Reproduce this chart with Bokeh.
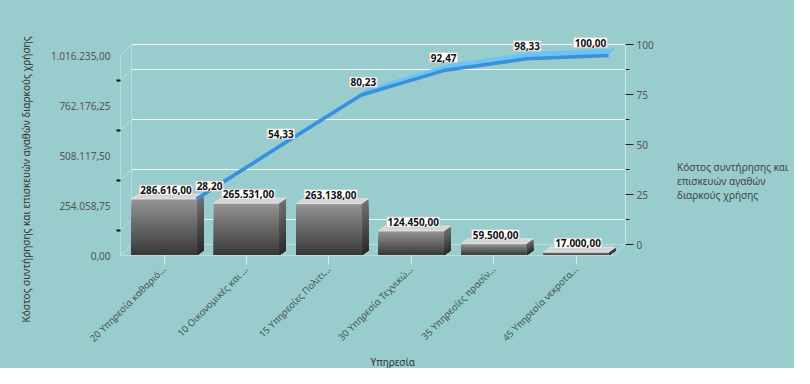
import numpy as np
from bokeh.plotting import figure
from bokeh.layouts import row
from bokeh.models import (Range1d, LinearAxis, FixedTicker, ColumnDataSource,
                          Title, Legend, LegendItem)
from bokeh.core.properties import value
from bokeh.embed import file_html
from bokeh.resources import INLINE

# ---------------- data ----------------
categories = ["20 Υπηρεσία καθαριό...", "10 Οικονομικές και ...",
              "15 Υπηρεσίες Πολιτι...", "30 Υπηρεσία Τεχνικώ...",
              "35 Υπηρεσίες πρασίν...", "45 Υπηρεσία νεκροτα..."]
costs = [286616.00, 265531.00, 263138.00, 124450.00, 59500.00, 17000.00]
cum_pct = [28.20, 54.33, 80.23, 92.47, 98.33, 100.00]
cost_ticks = [0.00, 254058.75, 508117.50, 762176.25, 1016235.00]
pct_ticks = [0, 25, 50, 75, 100]
pct_minor = [12.5, 37.5, 62.5, 87.5]
series_lines = ["Κόστος συντήρησης και", "επισκευών αγαθών", "διαρκούς χρήσης"]
y_title = "Κόστος συντήρησης και επισκευών αγαθών διαρκούς χρήσης"
x_title = "Υπηρεσία"

# ---------------- style / geometry ----------------
BG = "#99cccc"
FONT = "Noto Sans"
W, H = 660, 368
LW = 134                                    # legend strip width
FL, FR, FT, FB = 120, 625, 30, 255          # frame in figure px
CAT_PX = 82.4
FIRST_CENTER = 163.5                        # px of first category centre
HALF = 32.5 / CAT_PX                        # half bar width (category units)
WALL_DX = 11 / CAT_PX                       # 3D wall depth
Y_MAX = cost_ticks[-1]
FRONT_PX = 200.0                            # px from 0 to Y_MAX in front plane
PCT_PX = 2.0                                # px per percent unit (axis plane)

def gr(v):
    s = f"{v:,.2f}"
    return s.replace(",", "#").replace(".", ",").replace("#", ".")

x_start = (FL - FIRST_CENTER) / CAT_PX
x_end = (FR - FIRST_CENTER) / CAT_PX
frame_h = FB - FT
y_end = Y_MAX * frame_h / FRONT_PX
pct_start = -11 / PCT_PX
pct_end = 100 + (frame_h - 11 - 100 * PCT_PX) / PCT_PX
pct_front_end = 100 * frame_h / FRONT_PX

p = figure(width=W, height=H, output_backend="svg", toolbar_location=None,
           x_range=Range1d(x_start, x_end), y_range=Range1d(0, y_end),
           min_border_left=FL, min_border_right=W - FR,
           min_border_top=FT, min_border_bottom=H - FB)
p.background_fill_color = BG
p.border_fill_color = BG
p.outline_line_color = None
p.xgrid.visible = False
p.ygrid.visible = False
p.extra_y_ranges = {"pct": Range1d(pct_start, pct_end),
                    "pct_front": Range1d(0, pct_front_end)}

# ---------------- walls & grid (back plane) ----------------
wall = "#b9dede"
gridc = "#f2fafa"
bx0 = x_start + WALL_DX
dpct = 11 / PCT_PX
grid_vals = pct_minor + [100]
p.segment(x0=[bx0] * len(grid_vals), y0=grid_vals, x1=[x_end] * len(grid_vals),
          y1=grid_vals, y_range_name="pct", line_color=gridc, line_width=1)
diag_vals = grid_vals + [0]
p.segment(x0=[bx0] * len(diag_vals), y0=diag_vals, x1=[x_start] * len(diag_vals),
          y1=[g - dpct for g in diag_vals], y_range_name="pct",
          line_color=wall, line_width=1)
p.segment(x0=[bx0, bx0, x_end - WALL_DX], y0=[0, 0, -dpct],
          x1=[bx0, x_end, x_end], y1=[100, 0, 0], y_range_name="pct",
          line_color=wall, line_width=1)

# ---------------- 3D bars (gradient by overlapping layers) ----------------
def lerp(c1, c2, t):
    a = [int(c1[i:i + 2], 16) for i in (1, 3, 5)]
    b = [int(c2[i:i + 2], 16) for i in (1, 3, 5)]
    return "#%02x%02x%02x" % tuple(round(a[k] + (b[k] - a[k]) * t) for k in range(3))

N = 24
BDX = 7 / CAT_PX
BDY = 5 * Y_MAX / FRONT_PX
fl, fr, ft, fc = [], [], [], []
sx, sy, sc = [], [], []
for k in range(N, 0, -1):           # tallest (lightest) layer first
    t = (k - 0.5) / N
    for i, v in enumerate(costs):
        l, r = i - HALF, i + HALF
        top = v * k / N
        fl.append(l); fr.append(r); ft.append(top)
        fc.append(lerp("#363636", "#959595", t))
        sx.append([r, r + BDX, r + BDX, r])
        sy.append([0, BDY, top + BDY, top])
        sc.append(lerp("#2a2a2a", "#727272", t))
p.patches(xs=sx, ys=sy, fill_color=sc, line_color=None)
p.quad(left=fl, right=fr, bottom=0, top=ft, fill_color=fc, line_color=None)
tx = [[i - HALF, i - HALF + BDX, i + HALF + BDX, i + HALF] for i in range(len(costs))]
ty = [[v, v + BDY, v + BDY, v] for v in costs]
p.patches(xs=tx, ys=ty, fill_color="#d6d6d6", line_color="#eeeeee", line_width=0.7)

# ---------------- cumulative % ribbon ----------------
lx = [i + HALF for i in range(len(cum_pct))]
RDX = 7 / CAT_PX
RDY = 3.5
rib_x = lx + [x + RDX for x in lx[::-1]]
rib_y = cum_pct + [y + RDY for y in cum_pct[::-1]]
p.patch(rib_x, rib_y, y_range_name="pct_front", fill_color="#6cc4f5", line_color=None)
p.line(lx, cum_pct, y_range_name="pct_front", line_color="#3a90d9", line_width=3.5)

# ---------------- value labels ----------------
bar_src = ColumnDataSource(dict(x=[i + 2 / CAT_PX for i in range(len(costs))], y=costs,
                                t=[gr(v) for v in costs]))
p.text(x="x", y="y", text="t", source=bar_src, y_offset=-4,
       text_align="center", text_baseline="bottom", text_font=value(FONT),
       text_font_style="bold", text_font_size="10px", text_color="#111111",
       background_fill_color="white", border_line_color="#d0d0d0", padding=1)
pct_src = ColumnDataSource(dict(x=lx, y=cum_pct, t=[gr(v) for v in cum_pct],
                                xo=[13, 2, 2, 0, 1, -18]))
p.text(x="x", y="y", text="t", source=pct_src, x_offset="xo", y_offset=-13,
       y_range_name="pct_front", text_align="center", text_baseline="middle",
       text_font=value(FONT), text_font_style="bold", text_font_size="10px",
       text_color="#111111", background_fill_color="white",
       border_line_color="#d0d0d0", padding=1)

# ---------------- axes ----------------
ya = p.yaxis[0]
ya.ticker = FixedTicker(ticks=cost_ticks, minor_ticks=[Y_MAX * f for f in (0.125, 0.375, 0.625, 0.875)])
ya.major_label_overrides = {t: gr(t) for t in cost_ticks}
ya.major_tick_out = 0
ya.major_tick_in = 0
ya.minor_tick_out = 4
ya.minor_tick_in = 0
ya.minor_tick_line_color = "#111111"
ya.minor_tick_line_width = 2
ya.axis_line_color = wall
ya.bounds = (0, Y_MAX)
ya.major_label_standoff = 6
ya.major_label_text_font = FONT
ya.major_label_text_font_size = "10px"
ya.major_label_text_color = "#555555"

xa = p.xaxis[0]
xa.ticker = FixedTicker(ticks=list(range(len(categories))))
xa.major_label_overrides = {i: c for i, c in enumerate(categories)}
xa.major_label_orientation = np.pi / 4
xa.major_tick_out = 9
xa.major_tick_in = 0
xa.major_tick_line_color = "#d8ecec"
xa.minor_tick_line_color = None
xa.axis_line_color = wall
xa.bounds = (x_start, x_end - WALL_DX)
xa.major_label_standoff = 3
xa.major_label_text_font = FONT
xa.major_label_text_font_size = "9.5px"
xa.major_label_text_color = "#445555"

ra = LinearAxis(y_range_name="pct",
                ticker=FixedTicker(ticks=pct_ticks, minor_ticks=pct_minor))
ra.bounds = (0, 100)
ra.axis_line_color = "#cfe6e6"
ra.major_tick_out = 8
ra.major_tick_in = 0
ra.minor_tick_out = 4
ra.minor_tick_in = 0
ra.major_tick_line_color = "#222222"
ra.minor_tick_line_color = "#222222"
ra.major_label_standoff = 3
ra.major_label_text_font = FONT
ra.major_label_text_font_size = "10px"
ra.major_label_text_color = "#555555"
p.add_layout(ra, "right")

# ---------------- titles ----------------
p.add_layout(Title(text=y_title, align="left", offset=-67, standoff=30,
                   text_font=FONT, text_font_size="10px", text_font_style="normal",
                   text_color="#333333"), "left")
p.add_layout(Title(text=x_title, align="left", offset=250, standoff=0,
                   text_font=FONT, text_font_size="10px", text_font_style="normal",
                   text_color="#333333"), "below")

# ---------------- legend (separate strip to the right, frames aligned) ----------------
q = figure(width=LW, height=H, output_backend="svg", toolbar_location=None,
           x_range=Range1d(0, 1), y_range=Range1d(0, 1),
           x_axis_type=None, y_axis_type=None,
           min_border_left=0, min_border_right=0,
           min_border_top=FT, min_border_bottom=H - FB)
q.background_fill_color = BG
q.border_fill_color = BG
q.outline_line_color = None
q.xgrid.visible = False
q.ygrid.visible = False
r_leg = q.quad(left=[], right=[], bottom=[], top=[], fill_color="#999999", line_color=None)
r_blank = q.quad(left=[], right=[], bottom=[], top=[], fill_alpha=0, line_alpha=0)
items = [LegendItem(label=series_lines[0], renderers=[r_leg])]
items += [LegendItem(label=s, renderers=[r_blank]) for s in series_lines[1:]]
legend = Legend(items=items, location=(3, 53), background_fill_alpha=0,
                border_line_color=None, label_text_font=FONT,
                label_text_font_size="10px", label_text_color="#444444",
                glyph_width=6, glyph_height=6, label_height=11, spacing=0,
                margin=0, padding=4, label_standoff=8)
q.add_layout(legend, "center")

layout = row(p, q, styles={"background-color": BG})
open("out.html", "w").write(file_html(layout, INLINE))
